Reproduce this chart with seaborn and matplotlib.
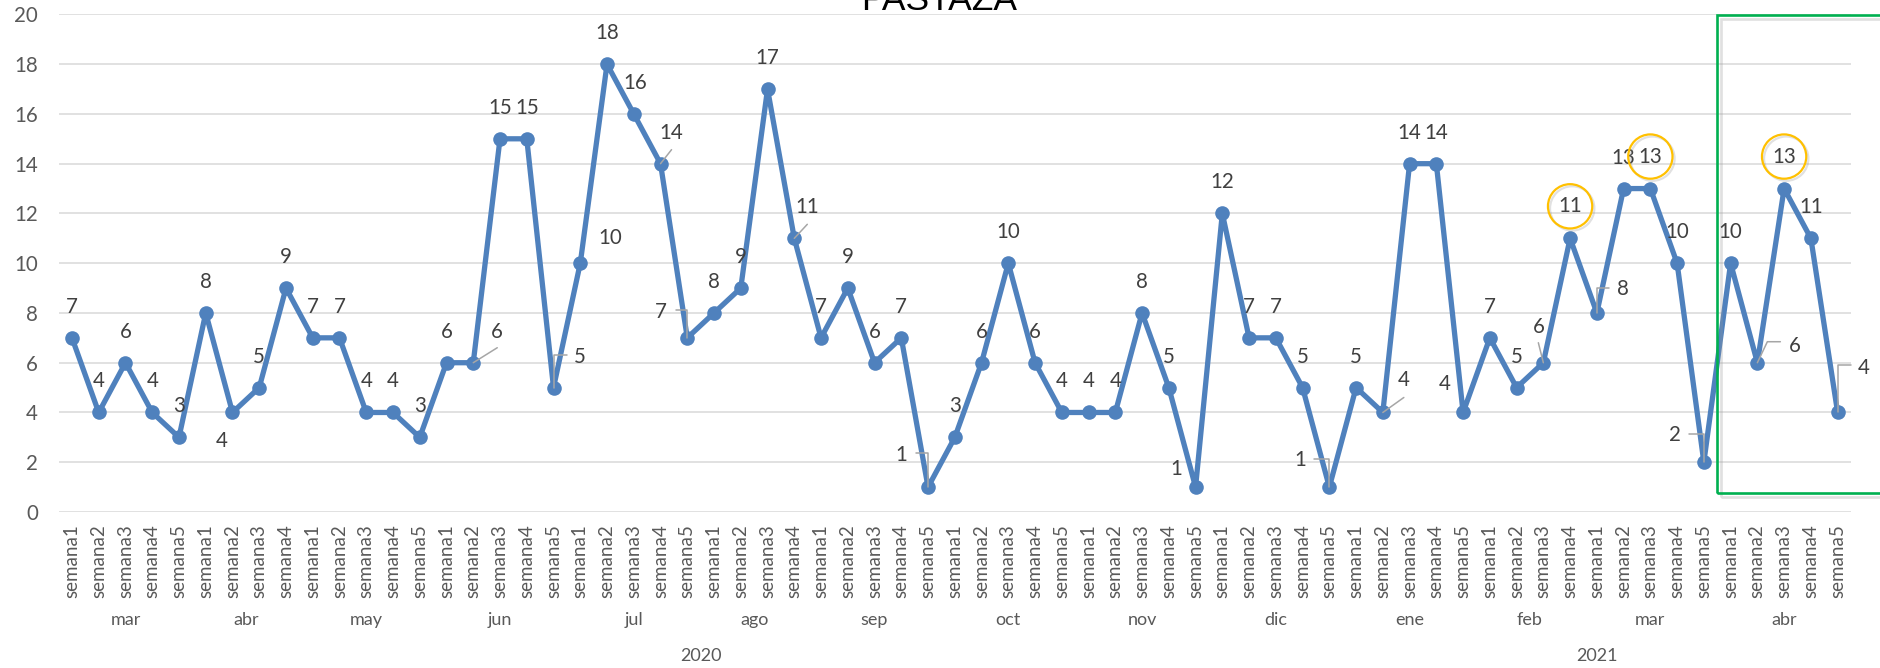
import numpy as np
import pandas as pd
import matplotlib.pyplot as plt
import matplotlib.patheffects as pe
import seaborn as sns
from matplotlib.lines import Line2D
from matplotlib.patches import Rectangle
from matplotlib.transforms import IdentityTransform

# weekly values, mar 2020 - abr 2021
months = ['mar', 'abr', 'may', 'jun', 'jul', 'ago', 'sep', 'oct', 'nov', 'dic',
          'ene', 'feb', 'mar', 'abr']
month_years = ['2020', '2020', '2020', '2020', '2020', '2020', '2020', '2020', '2020', '2020',
               '2021', '2021', '2021', '2021']
weeks_per_month = [5, 4, 5, 5, 5, 4, 5, 5, 5, 5, 5, 4, 5, 5]
values = [7, 4, 6, 4, 3,
          8, 4, 5, 9,
          7, 7, 4, 4, 3,
          6, 6, 15, 15, 5,
          10, 18, 16, 14, 7,
          8, 9, 17, 11,
          7, 9, 6, 7, 1,
          3, 6, 10, 6, 4,
          4, 4, 8, 5, 1,
          12, 7, 7, 5, 1,
          5, 4, 14, 14, 4,
          7, 5, 6, 11,
          8, 13, 13, 10, 2,
          10, 6, 13, 11, 4]
circled = [56, 59, 64]
box_start = 61.5  # green box starts with abr 2021

week_labels = [f'semana{k}' for n in weeks_per_month for k in range(1, n + 1)]

# label placement (pixels from the point, image coords: +y is down)
label_offsets = {6: (-11, 28), 15: (24, -32), 18: (26, -32), 19: (30, -26), 21: (1, -32),
                 22: (11, -32), 23: (-26, -27), 27: (13, -32), 32: (-27, -33), 42: (-19, -19),
                 47: (-29, -28), 49: (21, -33), 52: (-18, -29), 55: (-5, -37), 57: (26, -25),
                 61: (-29, -28), 63: (37, -18), 66: (26, -45)}
leaders = {15: [(0, 0), (24, -15)], 18: [(0, 0), (0, -33), (13, -33)],
           22: [(0, 0), (11, -14)], 23: [(0, 0), (0, -28), (-11, -28)],
           27: [(0, 0), (13, -14)], 32: [(0, 0), (0, -34), (-12, -34)],
           47: [(0, 0), (0, -28), (-15, -28)], 49: [(0, 0), (21, -15)],
           55: [(0, 0), (-5, -20)], 57: [(0, 0), (0, -25), (12, -25)],
           61: [(0, 0), (0, -28), (-15, -28)], 63: [(0, 0), (10, -21), (23, -21)],
           66: [(0, 0), (0, -47), (13, -47)]}

blue = '#4F81BD'
grey_txt = '#595959'
W, H = 1880, 668

sns.set_style('white')
plt.rcParams['font.family'] = ['Lato', 'DejaVu Sans']

df = pd.DataFrame({'pos': np.arange(len(values)), 'casos': values})

fig = plt.figure(figsize=(W / 100, H / 100), dpi=100)
ax = fig.add_axes([58.6 / W, 1 - 512 / H, (1851 - 58.6) / W, (512 - 14.4) / H])

sns.lineplot(data=df, x='pos', y='casos', ax=ax, color=blue, linewidth=3.8,
             marker='o', markersize=10.5, markeredgewidth=0, zorder=3)

ax.set_xlim(-0.5, len(values) - 0.5)
ax.set_ylim(0, 20)
ax.set_yticks(range(0, 21, 2))
ax.grid(axis='y', color='#D9D9D9', linewidth=1.1)
ax.grid(axis='x', visible=False)
for s in ax.spines.values():
    s.set_visible(False)
ax.set_xlabel('')
ax.set_ylabel('')

ax.set_xticks(df['pos'])
ax.set_xticklabels(week_labels, rotation=90, fontsize=13.5, color=grey_txt)
ax.tick_params(axis='x', length=0, pad=9)
ax.tick_params(axis='y', length=0, pad=15, labelsize=14.8, labelcolor=grey_txt)

# month and year labels under the weeks
start = 0
year_spans = {}
for m, y, n in zip(months, month_years, weeks_per_month):
    ax.text(start + (n - 1) / 2, -0.217, m, transform=ax.get_xaxis_transform(),
            ha='center', va='center', fontsize=13, color=grey_txt)
    lo, hi = year_spans.get(y, (start, start + n - 1))
    year_spans[y] = (min(lo, start), max(hi, start + n - 1))
    start += n
for y, (lo, hi) in year_spans.items():
    ax.text((lo + hi) / 2, -0.289, y, transform=ax.get_xaxis_transform(),
            ha='center', va='center', fontsize=13, color=grey_txt)

# data labels
for i, v in enumerate(values):
    dx, dy = label_offsets.get(i, (0, -32))
    if i in circled:
        ring = dict(boxstyle='circle,pad=0.5', fc='none', ec='#FFC000', lw=1.6,
                    path_effects=[pe.SimpleLineShadow(offset=(1.5, -1.5), shadow_color='#888888', alpha=0.25),
                                  pe.Normal()])
        ax.annotate(str(v), xy=(i, v), xytext=(dx, -dy), textcoords='offset pixels',
                    ha='center', va='center', fontsize=14.8, color='#404040', zorder=6, bbox=ring)
    else:
        ax.annotate(str(v), xy=(i, v), xytext=(dx, -dy - 7), textcoords='offset pixels',
                    ha='center', va='baseline', fontsize=14.8, color='#404040', zorder=6)

# leader lines
for i, pts in leaders.items():
    px, py = ax.transData.transform((i, values[i]))
    xs = [px + a for a, b in pts]
    ys = [py - b for a, b in pts]
    fig.add_artist(Line2D(xs, ys, transform=IdentityTransform(), color='#A6A6A6', lw=1.1, zorder=5))

# green highlight box
box = Rectangle((box_start, 0.76), 8, 19.21, transform=ax.transData, fill=False,
                ec='#00B050', lw=1.9, clip_on=False, zorder=5,
                path_effects=[pe.SimpleLineShadow(offset=(2.5, -2.5), shadow_color='#999999', alpha=0.3),
                              pe.Normal()])
ax.add_patch(box)

# title, mostly cut off at the top as in the original
fig.text(939 / W, 1 - 10 / H, 'PASTAZA', ha='center', va='baseline', fontsize=25.5,
         family=['Liberation Sans'], color='black')

fig.savefig('out.png', dpi=100)
